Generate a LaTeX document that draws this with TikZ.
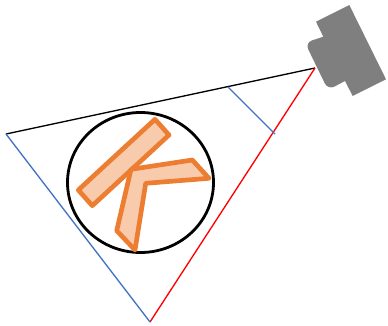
\documentclass[tikz,border=0pt]{standalone}
\usetikzlibrary{calc}
\definecolor{rayblue}{HTML}{4472C4}
\definecolor{kiteline}{HTML}{ED7D31}
\definecolor{kitefill}{HTML}{F8CBAD}
\definecolor{camgray}{HTML}{7F7F7F}
\begin{document}
\begin{tikzpicture}[
  x=0.75pt,y=-0.75pt,
  ray/.style={line width=1pt},
  kite/.style={draw=kiteline,fill=kitefill,line width=3.5pt,line join=round},
  ring/.style={draw=black,line width=2.1pt},
  cambody/.style={fill=camgray}]
  \useasboundingbox (0,0) rectangle (388,325);
  % view cone
  \coordinate (apex) at (315,68);
  \coordinate (farleft) at (6,134);
  \coordinate (farbottom) at (150,322);
  \coordinate (nearleft) at (228,87);
  \coordinate (nearright) at (275,134);
  \draw[ray,black] (farleft) -- (apex);
  \draw[ray,red] (farbottom) -- (apex);
  \draw[ray,rayblue] (farleft) -- (farbottom);
  \draw[ray,rayblue] (nearleft) -- (nearright);
  % target
  \draw[ring] (140.5,182.5) ellipse (73 and 70);
  \draw[kite] (155,119.3) -- (169,135) -- (92.3,205.7) -- (78.3,190) -- cycle;
  \draw[kite] (131,169.3) -- (192.3,160) -- (209,178.3) -- (145.7,183.3) -- (135,250) -- (116.7,230.7) -- cycle;
  % camera
  \fill[cambody] (316,21.7) -- (349.3,5) -- (386,79.3) -- (352.7,96) -- (345,81)
    [rounded corners=5.5pt] -- (328,90) -- (305,42.7) [sharp corners] -- (323.3,36.7) -- cycle;
\end{tikzpicture}
\end{document}
